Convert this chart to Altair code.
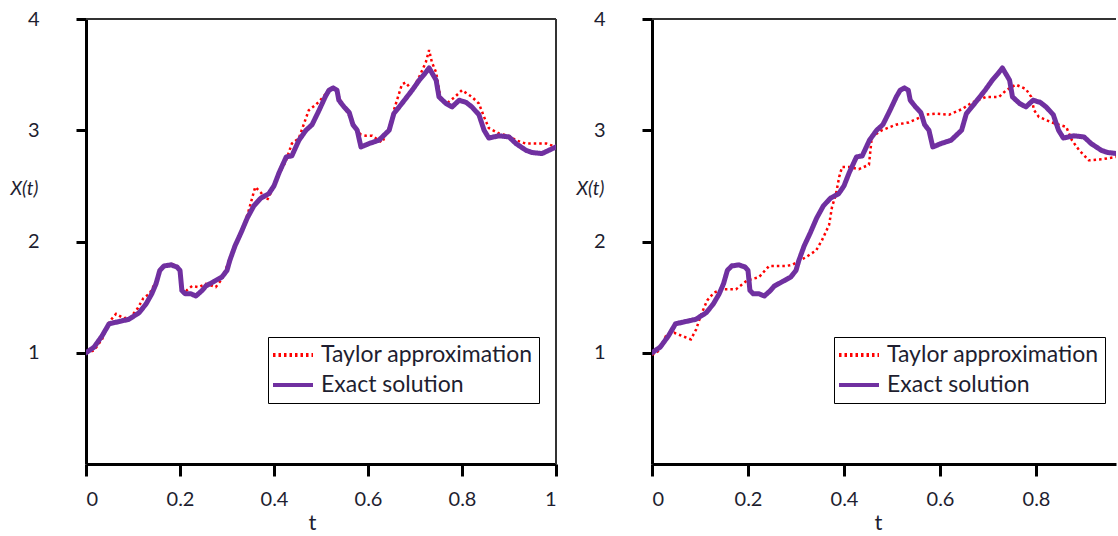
import altair as alt
import pandas as pd

SERIES = ["Taylor approximation", "Exact solution"]
COLORS = ["#ff0000", "#7030a0"]

# Exact solution (same path in both panels)
t_exact = [0, 0.017, 0.034, 0.049, 0.070, 0.091, 0.113, 0.128, 0.140, 0.149, 0.157, 0.166, 0.181, 0.194,
           0.200, 0.204, 0.211, 0.223, 0.234, 0.247, 0.255, 0.272, 0.289, 0.300, 0.306, 0.317, 0.330, 0.343,
           0.357, 0.372, 0.389, 0.400, 0.411, 0.426, 0.438, 0.453, 0.468, 0.481, 0.496, 0.509, 0.517, 0.526,
           0.534, 0.538, 0.549, 0.560, 0.568, 0.577, 0.585, 0.602, 0.623, 0.645, 0.655, 0.672, 0.694, 0.709,
           0.721, 0.730, 0.745, 0.751, 0.766, 0.779, 0.794, 0.809, 0.821, 0.836, 0.847, 0.857, 0.879, 0.900,
           0.915, 0.936, 0.949, 0.970, 0.985, 1.0]
x_exact = [1.00, 1.05, 1.15, 1.26, 1.28, 1.30, 1.36, 1.44, 1.53, 1.62, 1.74, 1.78, 1.79, 1.77,
           1.74, 1.56, 1.53, 1.53, 1.51, 1.56, 1.60, 1.64, 1.68, 1.74, 1.83, 1.96, 2.08, 2.21,
           2.32, 2.39, 2.43, 2.50, 2.62, 2.76, 2.77, 2.91, 3.00, 3.05, 3.18, 3.30, 3.36, 3.38,
           3.36, 3.27, 3.21, 3.16, 3.05, 3.00, 2.85, 2.88, 2.91, 3.00, 3.15, 3.24, 3.36, 3.45,
           3.51, 3.56, 3.45, 3.30, 3.24, 3.21, 3.27, 3.25, 3.21, 3.14, 3.00, 2.93, 2.95, 2.94,
           2.88, 2.82, 2.80, 2.79, 2.82, 2.85]

# Taylor approximation, left panel
t_taylor_left = [0, 0.017, 0.034, 0.050, 0.064, 0.080, 0.095, 0.110, 0.122, 0.135, 0.149, 0.157, 0.166,
                 0.181, 0.194, 0.200, 0.205, 0.214, 0.226, 0.240, 0.255, 0.276, 0.289, 0.300, 0.310,
                 0.320, 0.333, 0.345, 0.360, 0.372, 0.385, 0.396, 0.410, 0.425, 0.438, 0.453, 0.474,
                 0.489, 0.505, 0.517, 0.526, 0.534, 0.540, 0.550, 0.562, 0.572, 0.585, 0.596, 0.609,
                 0.630, 0.645, 0.655, 0.672, 0.680, 0.694, 0.709, 0.723, 0.730, 0.736, 0.745, 0.755,
                 0.770, 0.785, 0.800, 0.821, 0.836, 0.847, 0.857, 0.879, 0.900, 0.915, 0.936, 0.950,
                 0.964, 0.980, 1.0]
x_taylor_left = [1.00, 1.02, 1.12, 1.28, 1.35, 1.31, 1.32, 1.40, 1.49, 1.53, 1.64, 1.74, 1.78,
                 1.80, 1.78, 1.74, 1.58, 1.56, 1.60, 1.59, 1.62, 1.59, 1.66, 1.78, 1.90,
                 2.00, 2.12, 2.26, 2.49, 2.44, 2.37, 2.46, 2.60, 2.72, 2.88, 2.93, 3.18,
                 3.23, 3.30, 3.37, 3.38, 3.35, 3.28, 3.20, 3.12, 3.02, 2.96, 2.95, 2.95,
                 2.89, 3.02, 3.18, 3.41, 3.43, 3.36, 3.48, 3.61, 3.72, 3.61, 3.52, 3.27,
                 3.25, 3.30, 3.36, 3.30, 3.24, 3.12, 3.02, 2.97, 2.95, 2.91, 2.88, 2.88,
                 2.88, 2.88, 2.85]

# Taylor approximation, right panel
t_taylor_right = [0, 0.015, 0.029, 0.046, 0.063, 0.081, 0.092, 0.102, 0.115, 0.129, 0.146, 0.175, 0.198,
                  0.223, 0.244, 0.279, 0.292, 0.321, 0.342, 0.354, 0.369, 0.375, 0.383, 0.390, 0.396,
                  0.410, 0.431, 0.452, 0.458, 0.479, 0.508, 0.535, 0.571, 0.592, 0.619, 0.646, 0.667,
                  0.696, 0.723, 0.738, 0.758, 0.779, 0.790, 0.796, 0.806, 0.833, 0.863, 0.875, 0.890,
                  0.910, 0.938, 0.967, 1.0]
x_taylor_right = [0.98, 1.02, 1.15, 1.18, 1.15, 1.12, 1.21, 1.34, 1.47, 1.54, 1.57, 1.57, 1.65,
                  1.68, 1.78, 1.78, 1.79, 1.86, 1.92, 2.01, 2.15, 2.31, 2.42, 2.58, 2.67,
                  2.67, 2.65, 2.69, 2.94, 3.00, 3.05, 3.07, 3.14, 3.15, 3.14, 3.19, 3.25,
                  3.30, 3.30, 3.36, 3.41, 3.37, 3.30, 3.18, 3.12, 3.07, 3.03, 2.91, 2.82,
                  2.73, 2.74, 2.76, 2.78]

x_ticks = [0, 0.2, 0.4, 0.6, 0.8, 1]
y_ticks = [1, 2, 3, 4]

TEXT = "#1e1e30"
FONT = "Lato"


def make_df(t_tay, x_tay):
    a = pd.DataFrame({"t": t_tay, "X": x_tay, "series": SERIES[0]})
    b = pd.DataFrame({"t": t_exact, "X": x_exact, "series": SERIES[1]})
    return pd.concat([a, b], ignore_index=True)


def panel(df, width, xmax, right_border):
    x_enc = alt.X("t:Q",
                  scale=alt.Scale(domain=[0, xmax], nice=False, zero=False),
                  axis=alt.Axis(values=[v for v in x_ticks if v <= xmax], format=".1~f", title="t",
                                titleX=226, titleY=65, titleBaseline="alphabetic", titleAlign="center",
                                titleFontSize=22, titleFont=FONT, titleFontWeight="normal", titleColor=TEXT,
                                labelPadding=13, tickSize=12))
    y_enc = alt.Y("X:Q",
                  scale=alt.Scale(domain=[0, 4], nice=False),
                  axis=alt.Axis(values=y_ticks, title="X(t)", titleAngle=0, titleX=-62, titleY=169,
                                titleAlign="center", titleBaseline="middle", titleFontStyle="italic",
                                titleFontSize=19, titleFont=FONT, titleFontWeight="normal", titleColor=TEXT,
                                labelPadding=37, tickSize=10))
    color = alt.Color("series:N", scale=alt.Scale(domain=SERIES, range=COLORS),
                      legend=alt.Legend(title=None, orient="none", legendX=182, legendY=318,
                                        direction="vertical", fillColor="white", strokeColor="#000000",
                                        padding=6, rowPadding=6, symbolType="M-1.3,0H2.7", symbolSize=400,
                                        symbolStrokeWidth=4, labelOffset=23, labelFont=FONT,
                                        labelFontSize=23, labelColor=TEXT, labelLimit=400))
    dash = alt.StrokeDash("series:N", scale=alt.Scale(domain=SERIES, range=[[2.5, 3], [1, 0]]))
    sw = alt.StrokeWidth("series:N", scale=alt.Scale(domain=SERIES, range=[2.5, 5]), legend=None)

    base = alt.Chart(df).encode(x=x_enc, y=y_enc, color=color, strokeDash=dash, strokeWidth=sw)
    taylor = base.transform_filter(alt.datum.series == SERIES[0]).mark_line(clip=True, strokeCap="butt")
    exact = base.transform_filter(alt.datum.series == SERIES[1]).mark_line(
        clip=True, strokeJoin="round", strokeCap="round")

    top = alt.Chart(pd.DataFrame({"X": [4]})).mark_rule(color="#333333", strokeWidth=2).encode(y=y_enc)
    layers = [top, taylor, exact]
    if right_border:
        right = alt.Chart(pd.DataFrame({"t": [1]})).mark_rule(color="#333333", strokeWidth=2).encode(x=x_enc)
        layers.insert(1, right)
    return alt.layer(*layers).properties(width=width, height=445)


left = panel(make_df(t_taylor_left, x_taylor_left), 470, 1.0, True)
right = panel(make_df(t_taylor_right, x_taylor_right), 464, 0.9667, False)

chart = (
    alt.hconcat(left, right, spacing=18)
    .resolve_legend(color="independent", strokeDash="independent")
    .properties(padding={"left": 10, "top": 9, "right": 0, "bottom": 0}, background="white")
    .configure_view(stroke=None)
    .configure_axis(domainColor="#000000", domainWidth=3, tickColor="#000000", tickWidth=3,
                    labelFont=FONT, labelFontSize=20, labelColor=TEXT, grid=False)
)

chart.save("out.html", embed_options={"renderer": "svg", "actions": False})
